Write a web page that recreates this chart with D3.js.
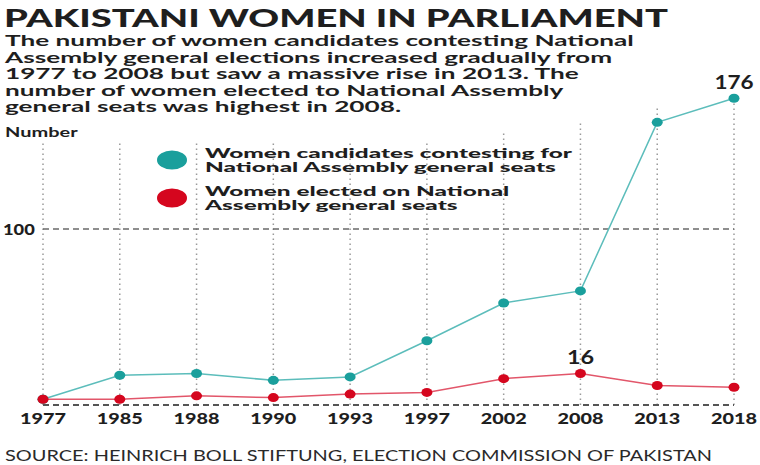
<!DOCTYPE html>
<html>
<head>
<meta charset="utf-8">
<script src="https://cdn.jsdelivr.net/npm/d3@7"></script>
<style>
  body { margin: 0; background: #fff; }
  text { font-family: Lato, "Open Sans", sans-serif; fill: #1e1e1e; }
</style>
</head>
<body>
<div id="chart"></div>
<script>
const years = ["1977", "1985", "1988", "1990", "1993", "1997", "2002", "2008", "2013", "2018"]
const candidates = [1, 15, 16, 12, 14, 35, 57, 64, 162, 176]
const elected = [1, 1, 3, 2, 4, 5, 13, 16, 9, 8]
const gridTops = [150, 150, 150, 150, 150, 150, 157, 163, 171, 176]
const yTicks = [100]
const subtitle = [
  "The number of women candidates contesting National",
  "Assembly general elections increased gradually from",
  "1977 to 2008 but saw a massive rise in 2013. The",
  "number of women elected to National Assembly",
  "general seats was highest in 2008."
]
const legendLabels = [
  ["Women candidates contesting for", "National Assembly general seats"],
  ["Women elected on National", "Assembly general seats"]
]

const width = 760, height = 465
const teal = "#1a9f9c", red = "#d5061e"

// the original artwork is stretched sideways, so widen text around its anchor
function stretch(sel, k) {
  sel.attr("transform", function() {
    const tx = +this.getAttribute("x"), ty = +this.getAttribute("y")
    return "translate(" + tx + "," + ty + ") scale(" + k + ",1) translate(" + (-tx) + "," + (-ty) + ")"
  })
}

const svg = d3.select("#chart").append("svg")
    .attr("width", width)
    .attr("height", height)

const x = d3.scalePoint()
    .domain(years)
    .range([43, 734])

const y = d3.scaleLinear()
    .domain([0, 100])
    .range([401, 229])

// grid: vertical dotted lines
svg.append("g")
  .selectAll("line")
  .data(years)
  .join("line")
    .attr("x1", d => x(d))
    .attr("x2", d => x(d))
    .attr("y1", 405)
    .attr("y2", (d, i) => y(gridTops[i]))
    .attr("stroke", "#9a9a9a")
    .attr("stroke-width", 1.5)
    .attr("stroke-dasharray", "1.5,3.5")

// horizontal dashed lines
svg.append("g")
  .selectAll("line")
  .data(yTicks)
  .join("line")
    .attr("x1", x(years[0]))
    .attr("x2", x(years[years.length - 1]))
    .attr("y1", d => y(d))
    .attr("y2", d => y(d))
    .attr("stroke", "#6a6a6a")
    .attr("stroke-width", 1.5)
    .attr("stroke-dasharray", "6,4")
svg.append("line")
    .attr("x1", x(years[0]))
    .attr("x2", x(years[years.length - 1]))
    .attr("y1", 405)
    .attr("y2", 405)
    .attr("stroke", "#555")
    .attr("stroke-width", 2)
    .attr("stroke-dasharray", "6,4")

svg.selectAll(".ytick")
  .data(yTicks)
  .join("text")
    .attr("class", "ytick")
    .attr("x", 3)
    .attr("y", d => y(d) + 6)
    .attr("font-size", 15)
    .attr("font-weight", 900)
    .text(d => d)
    .call(stretch, 1.22)

// x axis labels
svg.append("g")
  .selectAll("text")
  .data(years)
  .join("text")
    .attr("x", d => x(d))
    .attr("y", 424)
    .attr("text-anchor", "middle")
    .attr("font-size", 15.5)
    .attr("font-weight", 900)
    .text(d => d)
    .call(stretch, 1.28)

// lines + dots
const series = [
  {values: candidates, color: teal, stroke: "#5cbdbb"},
  {values: elected, color: red, stroke: "#e2566a"}
]
series.forEach(s => {
  svg.append("path")
    .datum(s.values)
    .attr("fill", "none")
    .attr("stroke", s.stroke)
    .attr("stroke-width", 1.5)
    .attr("d", d3.line()
      .x((d, i) => x(years[i]))
      .y(d => y(d)))
  svg.append("g")
    .selectAll("ellipse")
    .data(s.values)
    .join("ellipse")
      .attr("cx", (d, i) => x(years[i]))
      .attr("cy", d => y(d))
      .attr("rx", 5.5)
      .attr("ry", 4.5)
      .attr("fill", s.color)
})

// value labels
svg.append("text")
    .attr("x", x("2018"))
    .attr("y", y(176) - 9)
    .attr("text-anchor", "middle")
    .attr("font-size", 18)
    .attr("font-weight", 700)
    .text(candidates[9])
    .call(stretch, 1.25)
svg.append("text")
    .attr("x", x("2008"))
    .attr("y", y(16) - 9)
    .attr("text-anchor", "middle")
    .attr("font-size", 18)
    .attr("font-weight", 700)
    .text(elected[7])
    .call(stretch, 1.3)

// legend
const legend = svg.append("g")
legendLabels.forEach((lines, i) => {
  const ly = 160 + i * 38
  legend.append("ellipse")
    .attr("cx", 172)
    .attr("cy", ly)
    .attr("rx", 15)
    .attr("ry", 9.5)
    .attr("fill", i === 0 ? teal : red)
  lines.forEach((t, j) => {
    legend.append("text")
      .attr("x", 205)
      .attr("y", ly - 1.7 + j * 14)
      .attr("font-size", 14)
      .attr("font-weight", 900)
      .text(t)
      .call(stretch, 1.74)
  })
})

// titles
svg.append("text")
    .attr("x", 4)
    .attr("y", 27)
    .attr("font-size", 25)
    .attr("font-weight", 900)
    .attr("textLength", 664)
    .attr("lengthAdjust", "spacingAndGlyphs")
    .text("PAKISTANI WOMEN IN PARLIAMENT")

svg.append("g")
  .selectAll("text")
  .data(subtitle)
  .join("text")
    .attr("x", 5)
    .attr("y", (d, i) => 46.5 + i * 16.4)
    .attr("font-size", 15.5)
    .attr("font-weight", 700)
    .text(d => d)
    .call(stretch, 1.69)

svg.append("text")
    .attr("x", 5)
    .attr("y", 137)
    .attr("font-size", 12.5)
    .attr("font-weight", 700)
    .attr("fill", "#333")
    .text("Number")
    .call(stretch, 1.6)

svg.append("text")
    .attr("x", 5)
    .attr("y", 461)
    .attr("font-size", 14.5)
    .attr("textLength", 707)
    .attr("lengthAdjust", "spacingAndGlyphs")
    .style("fill", "#2a2a2a")
    .text("SOURCE:  HEINRICH BOLL STIFTUNG, ELECTION COMMISSION OF PAKISTAN")
</script>
</body>
</html>
